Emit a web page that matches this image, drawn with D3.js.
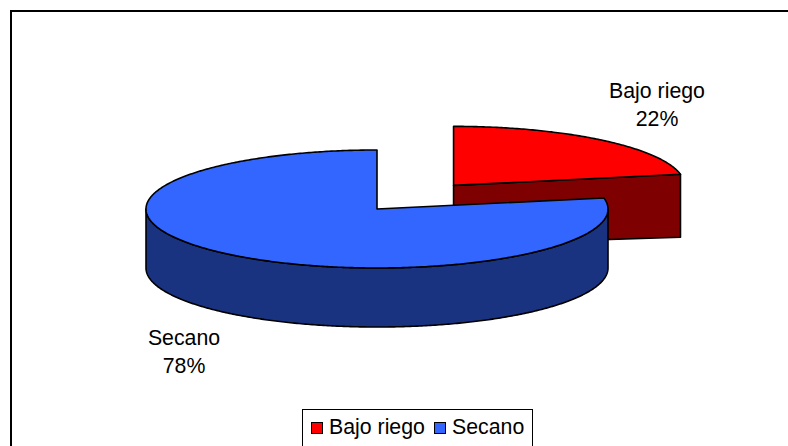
<!DOCTYPE html>
<html>
<head>
<meta charset="utf-8">
<script src="https://cdn.jsdelivr.net/npm/d3@7"></script>
<style>
  html, body { margin: 0; padding: 0; background: #fff; }
  svg { display: block; }
  text { font-family: "Liberation Sans", Arial, sans-serif; fill: #000; }
</style>
</head>
<body>
<svg id="chart" width="788" height="446"></svg>
<script>
// ---- data ----
const categories = ["Bajo riego", "Secano"];
const values = [22, 78];
const percentLabels = ["22%", "78%"];
const topColors = ["#ff0000", "#3366ff"];
const sideColors = ["#7f0000", "#1a3380"];
const exploded = [0.52, 0];

// ---- layout ----
const W = 788, H = 446;
const cx = 377, cy = 209, rx = 231, ry = 59, depth = 59;
const labelPos = [[657, 98], [184, 345]];
const fontSize = 21.3;

const svg = d3.select("#chart");

// frame
svg.append("rect")
  .attr("x", 11).attr("y", 11)
  .attr("width", W + 20).attr("height", H + 20)
  .attr("fill", "#fff").attr("stroke", "#000").attr("stroke-width", 2);

const pie = d3.pie().sort(null).startAngle(0).endAngle(2 * Math.PI);
const arcs = pie(values);

const sx = d3.scaleLinear().domain([-1, 1]).range([-rx, rx]);
const sy = d3.scaleLinear().domain([-1, 1]).range([ry, -ry]);

function pt(ox, oy, a, dz) {
  return [ox + sx(Math.sin(a)), oy + sy(Math.cos(a)) + (dz || 0)];
}
function arcPts(ox, oy, a0, a1, dz) {
  const n = Math.max(2, Math.ceil(Math.abs(a1 - a0) / 0.01));
  const out = [];
  for (let i = 0; i <= n; i++) out.push(pt(ox, oy, a0 + (a1 - a0) * i / n, dz));
  return out;
}
const line = d3.line();

arcs.forEach((d, i) => {
  const mid = (d.startAngle + d.endAngle) / 2;
  const k = exploded[i];
  const ox = cx + sx(Math.sin(mid) * k);
  const oy = cy + sy(Math.cos(mid) * k);
  const g = svg.append("g");
  const style = sel => sel.attr("stroke", "#000").attr("stroke-width", 1.6)
    .attr("stroke-linejoin", "round");

  // radial faces
  [[d.startAngle, d.startAngle - Math.PI / 2], [d.endAngle, d.endAngle + Math.PI / 2]].forEach(([a, n]) => {
    if (Math.cos(n) < -1e-6) {
      const p1 = [ox, oy], p2 = pt(ox, oy, a), p3 = pt(ox, oy, a, depth + 4), p4 = [ox, oy + depth];
      g.append("path").attr("d", line([p1, p2, p3, p4]) + "Z")
        .attr("fill", sideColors[i]).call(style);
    }
  });
  // outer wall (front half)
  const w0 = Math.max(d.startAngle, Math.PI / 2), w1 = Math.min(d.endAngle, 3 * Math.PI / 2);
  if (w1 > w0) {
    const topE = arcPts(ox, oy, w0, w1, 0);
    const botE = arcPts(ox, oy, w1, w0, depth);
    g.append("path").attr("d", line(topE.concat(botE)) + "Z")
      .attr("fill", sideColors[i]).call(style);
  }
  // top
  const topPts = [[ox, oy]].concat(arcPts(ox, oy, d.startAngle, d.endAngle, 0));
  g.append("path").attr("d", line(topPts) + "Z")
    .attr("fill", topColors[i]).call(style);
});

// data labels
arcs.forEach((d, i) => {
  const t = svg.append("text").attr("text-anchor", "middle").attr("font-size", fontSize)
    .attr("x", labelPos[i][0]).attr("y", labelPos[i][1]);
  t.append("tspan").attr("x", labelPos[i][0]).text(categories[i]);
  t.append("tspan").attr("x", labelPos[i][0]).attr("dy", 28).text(percentLabels[i]);
});

// legend
const lg = svg.append("g");
lg.append("rect").attr("x", 302.5).attr("y", 409.5).attr("width", 230).attr("height", 60)
  .attr("fill", "#fff").attr("stroke", "#000").attr("stroke-width", 1);
const legendX = [311, 434];
categories.forEach((c, i) => {
  lg.append("rect").attr("x", legendX[i] + 0.5).attr("y", 422.5).attr("width", 11).attr("height", 11)
    .attr("fill", topColors[i]).attr("stroke", "#000").attr("stroke-width", 1);
  lg.append("text").attr("x", legendX[i] + 18).attr("y", 434).attr("font-size", fontSize).text(c);
});
</script>
</body>
</html>
